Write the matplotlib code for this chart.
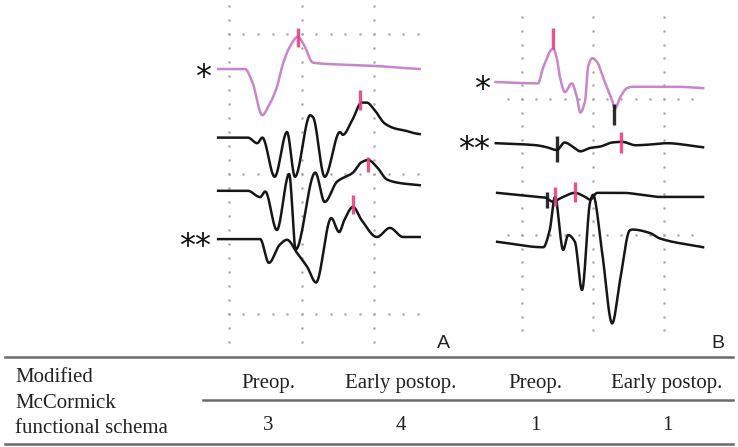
import numpy as np
import matplotlib.pyplot as plt

W, H = 738, 447
fig = plt.figure(figsize=(W / 100, H / 100), dpi=100)

# ---------------- data ----------------
# time in ms (grid = 10 ms), amplitude relative to the trace baseline (grid = 10 units)
# panel A
a_pink_t = [-1.5, 2.2, 3.2, 4.6, 5.4, 6.6, 7.4, 8.4, 9.5, 10.3, 11.6, 16.3, 20.8, 23.3, 26.3]
a_pink_v = [0, 0, -0.9, -3.3, -2.7, -1.3, 0.3, 1.6, 2.3, 1.75, 0.45, 0.3, 0.2, 0.1, 0]
a_tr1_t = [-1.5, 2.6, 3.9, 4.6, 6.3, 8.0, 9.1, 11.2, 11.6, 13.2, 15.3, 15.7, 17.0, 18.3,
           19.0, 20.1, 21.5, 22.9, 24.3, 25.7, 26.3]
a_tr1_v = [0, 0, -0.4, 0, -2.8, 0.4, -2.8, 1.6, 1.45, -2.8, 0.4, 0.2, 1.25, 2.5,
           2.5, 1.95, 1.0, 0.65, 0.5, 0.3, 0.25]
a_tr2_t = [-1.5, 2.6, 4.3, 5.0, 6.6, 8.3, 9.2, 11.9, 13.2, 14.9, 17.1, 18.3, 19.2, 20.4,
           21.8, 23.6, 26.3]
a_tr2_v = [0, 0, -0.45, -0.05, -2.8, 1.2, -4.2, 1.3, -0.8, 0.65, 1.3, 2.05, 2.2, 1.7,
           0.8, 0.55, 0.4]
a_tr3_t = [-1.5, 4.3, 5.5, 7.0, 8.0, 9.4, 10.8, 12.0, 14.1, 15.2, 15.9, 17.1, 18.3,
           20.4, 22.2, 24.0, 26.3]
a_tr3_v = [0.1, 0.1, -1.6, -0.3, 0.05, -0.9, -1.9, -3.0, 1.6, 0.6, 1.45, 2.4, 1.45,
           0.25, 0.9, 0.25, 0.25]
a_base = [-2.5, -7.4, -11.2, -14.75]
# latency marks: trace index, time, low, high, colour
a_marks = [(0, 9.5, 1.6, 2.9, 'pink'), (1, 18.1, 1.95, 3.4, 'pink'),
           (2, 19.2, 1.35, 2.4, 'pink'), (3, 17.1, 1.9, 3.25, 'pink')]

# panel B
b_pink_t = [-3.7, 2.25, 3.0, 4.4, 4.9, 5.35, 6.05, 7.0, 7.75, 8.2, 8.9, 9.3, 9.9, 10.6,
            11.4, 12.7, 13.1, 13.8, 14.8, 15.6, 18.5, 21.8, 25.5]
b_pink_v = [0.05, -0.05, 1.15, 2.5, 1.8, 0.4, -0.7, -0.05, -1.1, -2.2, -1.3, 1.15, 1.8,
            1.5, 0.4, -1.3, -1.9, -1.1, -0.4, -0.3, -0.3, -0.3, -0.4]
b_tr1_t = [-3.7, 2.0, 3.5, 4.9, 6.0, 7.4, 8.2, 9.6, 11.0, 12.7, 14.1, 16.0, 18.0, 20.4,
           24.1, 25.5]
b_tr1_v = [0.05, -0.1, -0.25, -0.45, 0.1, -0.3, -0.55, -0.3, -0.2, 0.1, 0.15, -0.1,
           -0.05, 0.05, -0.15, -0.25]
b_tr2_t = [-3.5, 2.1, 3.25, 4.35, 5.6, 7.45, 8.9, 9.6, 10.6, 12.4, 14.2, 17.0, 19.4, 25.5]
b_tr2_v = [0, -0.3, -0.35, -0.65, -0.35, 0, -0.3, -0.5, 0, 0, 0, -0.15, -0.3, -0.3]
b_tr3_t = [-3.5, 3.0, 3.9, 4.65, 5.8, 6.5, 7.45, 8.45, 9.6, 10.0, 11.3, 12.7, 13.8, 15.2,
           15.6, 18.0, 19.4, 25.5]
b_tr3_v = [0.05, -0.35, 0.9, 3.35, -0.55, 0.55, 0.05, -3.5, 3.0, 3.5, -0.8, -5.95, -2.8,
           0.9, 0.95, 0.7, 0.3, -0.35]
b_base = [1.2, -3.3, -6.9, -10.55]
b_marks = [(0, 4.4, 2.5, 4.0, 'pink'), (0, 12.9, -3.1, -1.6, 'black'),
           (1, 4.9, -1.3, 0.55, 'black'), (1, 13.9, -0.7, 0.85, 'pink'),
           (2, 3.5, -1.1, 0.05, 'black'), (2, 4.65, -1.0, 0.45, 'pink'),
           (2, 7.45, -0.65, 0.8, 'pink')]

row_label = ['Modified', 'McCormick', 'functional schema']
header = ['Preop.', 'Early postop.', 'Preop.', 'Early postop.']
scores = [3, 4, 1, 1]
panel_names = ['A', 'B']

# ---------------- drawing ----------------
pink_line = '#c985c9'
mark_col = {'pink': '#e8407e', 'black': '#151515'}
dot_col = '#a8a8a8'


def pchip(t, v, n=400):
    # monotone cubic through the read points, gives the rounded peaks
    t = np.asarray(t, float)
    v = np.asarray(v, float)
    h = np.diff(t)
    d = np.diff(v) / h
    m = np.zeros_like(v)
    m[0], m[-1] = d[0], d[-1]
    for k in range(1, len(v) - 1):
        if d[k - 1] * d[k] > 0:
            w1 = 2 * h[k] + h[k - 1]
            w2 = h[k] + 2 * h[k - 1]
            m[k] = (w1 + w2) / (w1 / d[k - 1] + w2 / d[k])
    tt = np.linspace(t[0], t[-1], n)
    k = np.clip(np.searchsorted(t, tt) - 1, 0, len(t) - 2)
    s = (tt - t[k]) / h[k]
    h00 = 2 * s**3 - 3 * s**2 + 1
    h10 = s**3 - 2 * s**2 + s
    h01 = -2 * s**3 + 3 * s**2
    h11 = s**3 - s**2
    vv = h00 * v[k] + h10 * h[k] * m[k] + h01 * v[k + 1] + h11 * h[k] * m[k + 1]
    return tt, vv


def panel(x0, y0, sx, sy):
    # axes over the whole figure; (x0, y0) pixel of t=0 / y=0, sx, sy pixels per unit
    ax = fig.add_axes([0, 0, 1, 1])
    ax.set_xlim(-x0 / sx, (W - x0) / sx)
    ax.set_ylim((y0 - H) / sy, y0 / sy)
    ax.axis('off')
    ax.patch.set_alpha(0)
    return ax


def draw_grid(ax, vlines, vy, hlines, ht):
    for t in vlines:
        ax.plot(np.full(len(vy), t), vy, ls='none', marker='o', ms=1.8, color=dot_col, mec='none')
    for y in hlines:
        ax.plot(ht, np.full(len(ht), y), ls='none', marker='o', ms=1.8, color=dot_col, mec='none')


def draw_traces(ax, traces, base, marks):
    for i, (t, v) in enumerate(traces):
        col = pink_line if i == 0 else '#161616'
        tt, vv = pchip(t, v)
        ax.plot(tt, vv + base[i], color=col, lw=1.8, solid_joinstyle='round')
    for i, t, lo, hi, c in marks:
        ax.plot([t, t], [base[i] + lo, base[i] + hi], color=mark_col[c], lw=2.4,
                solid_capstyle='butt', alpha=0.9)


axA = panel(229, 34, 7.25, 14)
draw_grid(axA, [0, 10, 20], np.arange(2, -23, -1), [0, -10, -20], np.arange(0, 27, 2))
draw_traces(axA, [(a_pink_t, a_pink_v), (a_tr1_t, a_tr1_v), (a_tr2_t, a_tr2_v),
                  (a_tr3_t, a_tr3_v)], a_base, a_marks)

axB = panel(522, 99, 7.1, 13.6)
draw_grid(axB, [0, 10, 20], np.arange(6, -18, -1), [0, -10], np.arange(-2, 25, 2))
draw_traces(axB, [(b_pink_t, b_pink_v), (b_tr1_t, b_tr1_v), (b_tr2_t, b_tr2_v),
                  (b_tr3_t, b_tr3_v)], b_base, b_marks)

# overlay in pixel units for labels and the table
ov = fig.add_axes([0, 0, 1, 1])
ov.set_xlim(0, W)
ov.set_ylim(H, 0)
ov.axis('off')
ov.patch.set_alpha(0)

ast_fs = 23
ast_shift = 0.47 * ast_fs * 100 / 72
for x, y, s in [(203, 71, '*'), (195, 240, '**'), (482, 83, '*'), (474, 143, '**')]:
    ov.text(x, y + ast_shift, s, fontsize=ast_fs, ha='center', va='baseline', color='#111111')

for x, s in zip([443, 718], panel_names):
    ov.text(x, 348, s, fontsize=14, family='Liberation Sans', ha='center', va='baseline',
            color='#222222')

line_col = '#6a6a6a'
ov.plot([5, 733], [357, 357], color=line_col, lw=1.8)
ov.plot([203, 733], [399.5, 399.5], color=line_col, lw=1.8)
ov.plot([5, 733], [443.5, 443.5], color=line_col, lw=1.8)

serif = dict(family='Liberation Serif', fontsize=15, color='#222222', va='baseline')
for y, s in zip([382, 408, 433], row_label):
    ov.text(15, y, s, ha='left', **serif)
col_x = [268, 401, 535, 667]
for x, s in zip(col_x, header):
    ov.text(x, 388, s, ha='center', **serif)
for x, s in zip(col_x, scores):
    ov.text(x, 430, str(s), ha='center', **serif)

fig.savefig('out.png', dpi=100, facecolor='white')
